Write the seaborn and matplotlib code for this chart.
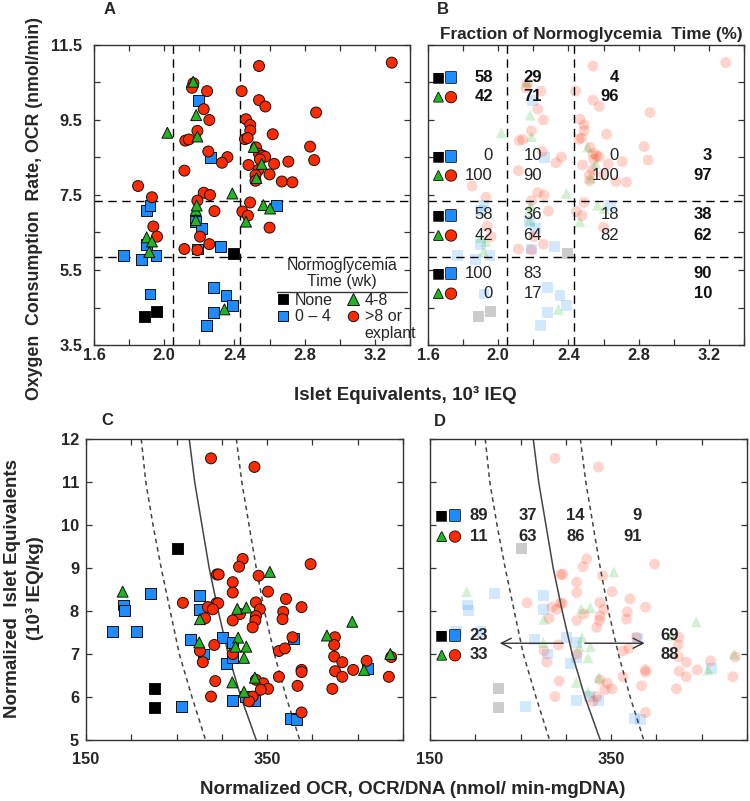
import numpy as np
import pandas as pd
import matplotlib
matplotlib.use("Agg")
import matplotlib.pyplot as plt
import seaborn as sns
from matplotlib.lines import Line2D
from matplotlib.ticker import FixedLocator, FormatStrFormatter
from matplotlib import patheffects as pe

# ---------------- data: panel A/B (islet equivalents vs OCR) ----------------
a_none_x = [1.890, 1.957, 2.394]
a_none_y = [4.26, 4.39, 5.94]
a_b04_x = [2.196, 2.261, 1.900, 1.919, 2.180, 2.214, 1.900, 1.767, 1.872, 1.953,
           2.189, 2.318, 2.280, 2.352, 2.390, 2.280, 2.242, 1.919, 2.640]
a_b04_y = [10.03, 8.51, 7.08, 7.23, 6.79, 6.61, 6.19, 5.88, 5.79, 5.88,
           6.06, 6.12, 5.03, 4.81, 4.55, 4.36, 4.01, 4.86, 7.23]
a_g48_x = [2.018, 2.182, 2.189, 2.165, 2.388, 2.180, 2.180, 2.466, 1.900, 1.930,
           1.915, 2.343, 2.565, 2.603, 2.510, 2.555, 2.525, 2.185]
a_g48_y = [9.16, 9.63, 9.06, 10.52, 7.54, 7.10, 6.83, 6.79, 6.37, 6.26,
           5.98, 4.45, 7.23, 7.14, 8.78, 8.33, 7.95, 7.22]
a_r8_x = [2.166, 2.158, 2.244, 2.441, 2.225, 2.257, 2.189, 2.120, 2.140, 2.251,
          2.360, 2.329, 2.115, 1.851, 1.930, 2.225, 2.261, 2.189, 2.286, 1.938,
          1.959, 2.204, 2.115, 2.189, 2.257, 2.445, 2.489, 2.477, 2.600,
          2.466, 2.490, 2.490, 2.460, 2.475, 2.480, 2.540, 3.296, 2.540, 2.576,
          2.865, 2.618, 2.831, 2.523, 2.540, 2.560, 2.575, 2.545, 2.854, 2.707,
          2.626, 2.537, 2.520, 2.600, 2.520, 2.670, 2.730]
a_r8_y = [10.48, 10.36, 10.27, 10.27, 9.79, 9.50, 9.21, 8.95, 8.98, 8.66,
          8.51, 8.36, 8.15, 7.74, 7.44, 7.56, 7.50, 7.35, 7.07, 6.66,
          6.39, 6.39, 6.06, 6.03, 6.19, 7.06, 7.30, 6.95, 6.63,
          9.52, 9.37, 9.22, 8.99, 9.02, 8.30, 10.94, 11.03, 10.03, 9.86,
          9.70, 9.12, 8.79, 8.77, 8.60, 8.55, 8.52, 8.45, 8.43, 8.39,
          8.33, 8.17, 8.03, 8.05, 7.88, 7.86, 7.84]

# ---------------- data: panel C/D (normalized OCR vs normalized IEQ) ----------------
c_none_x = [250.8, 225.4, 225.4]
c_none_y = [9.45, 6.20, 5.75]
c_b04_x = [179.4, 191.0, 192.0, 206.0, 221.4, 255.6, 265.0, 275.8, 275.8, 280.0,
           300.9, 305.0, 312.0, 312.0, 312.0, 326.0, 336.5, 379.0, 376.0, 382.0, 461.0]
c_b04_y = [7.52, 8.14, 8.01, 7.52, 8.41, 5.77, 7.34, 8.35, 8.04, 7.00,
           7.39, 6.78, 7.26, 6.91, 5.92, 6.02, 5.91, 7.37, 5.50, 5.48, 6.67]
c_g48_x = [190.5, 275.8, 275.0, 311.5, 317.0, 327.0, 318.0, 315.0, 327.0, 324.5,
           324.5, 336.5, 353.0, 416.0, 444.0, 457.0, 486.0]
c_g48_y = [8.45, 7.81, 7.27, 6.34, 8.05, 8.08, 7.38, 7.17, 7.17, 6.91,
           6.12, 6.45, 8.91, 7.43, 7.75, 6.63, 7.00]
c_r8_x = [288.0, 336.0, 323.0, 319.0, 294.6, 296.5, 312.0, 312.0, 257.0, 294.0,
          296.0, 284.7, 290.0, 281.5, 320.0, 312.0, 275.8, 279.0, 291.6, 312.0,
          292.7, 288.0, 398.0, 340.6, 351.0, 370.8, 337.6, 342.0, 388.0, 367.8,
          337.6, 337.0, 367.0, 334.0, 378.0, 424.8, 424.0, 363.0, 369.6, 424.0,
          433.0, 459.8, 445.0, 425.0, 433.0, 388.0, 388.0, 487.0, 484.4, 363.0,
          383.6, 422.0, 388.0, 337.6, 345.7, 351.0, 343.0, 334.0, 330.0]
c_r8_y = [11.55, 11.35, 9.21, 9.03, 8.85, 8.85, 8.67, 8.43, 8.19, 8.18,
          8.18, 8.09, 8.04, 7.83, 7.93, 7.78, 7.07, 6.81, 7.21, 7.00,
          6.37, 6.01, 9.09, 8.82, 8.45, 8.28, 8.20, 8.04, 8.09, 7.98,
          7.88, 7.78, 7.81, 7.62, 7.39, 7.39, 7.21, 7.07, 7.13, 6.94,
          6.81, 6.84, 6.63, 6.60, 6.47, 6.63, 6.58, 6.93, 6.47, 6.47,
          6.26, 6.19, 5.64, 6.40, 6.32, 6.19, 6.17, 6.01, 5.90]

# threshold / reference lines
iex_cuts = [2.05, 2.43]
ocr_cuts = [5.85, 7.34]
curve_y = [12, 11, 10, 9, 8, 7, 6, 5]
curve_mid_x = [264, 270, 278, 286, 296, 307, 321, 338]
curve_lo_x = [211, 216, 224, 233, 243, 253, 267, 282]
curve_hi_x = [316, 322, 330, 338, 347, 358, 371, 386]

# panel B percentages: (None + 0-4) and (4-8 + >8) per OCR band, by IEQ band, last = total
b_pct_low = [[58, 29, 4, None], [0, 10, 0, 3], [58, 36, 18, 38], [100, 83, None, 90]]
b_pct_high = [[42, 71, 96, None], [100, 90, 100, 97], [42, 64, 82, 62], [0, 17, None, 10]]
# panel D percentages
d_pct_low = [89, 37, 14, 9]
d_pct_high = [11, 63, 86, 91]
d_side_low = [23, 69]
d_side_high = [33, 88]
d_arrow_left = [297, 227]
d_arrow_right = [321, 387]
d_arrow_y = 7.25

# tick values
a_xticks = [1.6, 2.0, 2.4, 2.8, 3.2]
a_yticks = [3.5, 5.5, 7.5, 9.5, 11.5]
c_xticks = [150, 350, 550]
c_yticks = [5, 6, 7, 8, 9, 10, 11, 12]

groups = ["None", "0 – 4", "4-8", ">8 or explant"]
palette = {"None": "#000000", "0 – 4": "#1E8CFF", "4-8": "#22B422", ">8 or explant": "#FF2A00"}
markers = {"None": "s", "0 – 4": "s", "4-8": "^", ">8 or explant": "o"}


def build(nx, ny, bx, by, gx, gy, rx, ry):
    parts = [
        pd.DataFrame({"x": bx, "y": by, "g": "0 – 4"}),
        pd.DataFrame({"x": rx, "y": ry, "g": ">8 or explant"}),
        pd.DataFrame({"x": gx, "y": gy, "g": "4-8"}),
        pd.DataFrame({"x": nx, "y": ny, "g": "None"}),
    ]
    return pd.concat(parts, ignore_index=True)


df_a = build(a_none_x, a_none_y, a_b04_x, a_b04_y, a_g48_x, a_g48_y, a_r8_x, a_r8_y)
df_c = build(c_none_x, c_none_y, c_b04_x, c_b04_y, c_g48_x, c_g48_y, c_r8_x, c_r8_y)

sns.set_theme(style="ticks")
plt.rcParams["font.family"] = ["Liberation Sans", "DejaVu Sans"]
plt.rcParams["font.weight"] = "bold"
plt.rcParams["axes.labelweight"] = "bold"

fig = plt.figure(figsize=(7.5, 8.01), dpi=100)
W, H = 750.0, 801.0


def add_ax(l, t, r, b):
    return fig.add_axes([l / W, 1 - b / H, (r - l) / W, (b - t) / H])


axA = add_ax(94, 45, 410, 345)
axB = add_ax(428, 45, 744, 345)
axC = add_ax(86, 439, 403, 740)
axD = add_ax(430, 439, 747, 740)

TICK_FS = 11.8


def style(ax, xlim, ylim, xmaj, xmin, ymaj, ymin, xfmt, yfmt, ylab, ypad, xpad):
    ax.set_xlim(*xlim)
    ax.set_ylim(*ylim)
    ax.xaxis.set_major_locator(FixedLocator(xmaj))
    ax.xaxis.set_minor_locator(FixedLocator(xmin))
    ax.yaxis.set_major_locator(FixedLocator(ymaj))
    ax.yaxis.set_minor_locator(FixedLocator(ymin))
    ax.xaxis.set_major_formatter(FormatStrFormatter(xfmt))
    ax.yaxis.set_major_formatter(FormatStrFormatter(yfmt))
    ax.tick_params(which="both", direction="in", top=True, right=True,
                   length=4, width=0.9, color="#333333", labelsize=TICK_FS)
    ax.tick_params(axis="y", which="both", labelleft=ylab, pad=ypad)
    ax.tick_params(axis="x", which="both", pad=xpad)
    for s in ax.spines.values():
        s.set_linewidth(1.0)
        s.set_color("#333333")
    for lbl in ax.get_xticklabels() + ax.get_yticklabels():
        lbl.set_fontweight("bold")
    ax.set_xlabel("")
    ax.set_ylabel("")


def scatter(ax, df, faded):
    if faded:
        sns.scatterplot(data=df, x="x", y="y", hue="g", style="g", palette=palette,
                        markers=markers, hue_order=groups, style_order=groups,
                        s=62, alpha=0.2, linewidth=0, legend=False, ax=ax, zorder=1)
    else:
        sns.scatterplot(data=df, x="x", y="y", hue="g", style="g", palette=palette,
                        markers=markers, hue_order=groups, style_order=groups,
                        s=62, edgecolor="#111111", linewidth=0.7, legend=False,
                        ax=ax, zorder=3)


# ---- panels A & B ----
for ax, faded in ((axA, False), (axB, True)):
    scatter(ax, df_a, faded)
    for xv in iex_cuts:
        ax.axvline(xv, color="black", lw=1.0, ls=(0, (6, 4)), zorder=2)
    for yv in ocr_cuts:
        ax.axhline(yv, color="black", lw=1.0, ls=(0, (6, 4)), zorder=2)

a_xminor = list(np.round(np.arange(1.6, 3.41, 0.2), 2))
a_yminor = list(np.arange(3.5, 11.6, 1.0))
style(axA, (1.6, 3.4), (3.5, 11.5), a_xticks, a_xminor, a_yticks, a_yminor,
      "%.1f", "%.1f", True, 8.5, 2.5)
style(axB, (1.6, 3.4), (3.5, 11.5), a_xticks, a_xminor, a_yticks, a_yminor,
      "%.1f", "%.1f", False, 8.5, 2.5)

# legend in A
LEG_FS = 11.5
handles = [
    Line2D([], [], ls="", marker="s", mfc=palette["None"], mec="#111111", ms=7.5, mew=0.7),
    Line2D([], [], ls="", marker="s", mfc=palette["0 – 4"], mec="#111111", ms=7.5, mew=0.7),
    Line2D([], [], ls="", marker=None),
    Line2D([], [], ls="", marker="^", mfc=palette["4-8"], mec="#111111", ms=8, mew=0.7),
    Line2D([], [], ls="", marker="o", mfc=palette[">8 or explant"], mec="#111111", ms=7.5, mew=0.7),
    Line2D([], [], ls="", marker=None),
]
labels = ["None", "0 – 4", "", "4-8", ">8 or", "explant"]
leg = axA.legend(handles, labels, ncol=2, loc="upper left",
                 bbox_to_anchor=((277 - 94) / 316, (345 - 293) / 300),
                 frameon=False, prop={"size": LEG_FS, "weight": "normal"},
                 handlelength=0.7, handletextpad=0.4, columnspacing=0.9,
                 labelspacing=0.08, borderpad=0.0, borderaxespad=0.0)
axA.text((342 - 94) / 316, (345 - 273.5) / 300, "Normoglycemia\nTime (wk)",
         transform=axA.transAxes, ha="center", va="center", multialignment="center",
         linespacing=1.05, fontsize=LEG_FS, fontweight="normal")
axA.plot([(277 - 94) / 316, (407 - 94) / 316], [(345 - 292) / 300] * 2,
         transform=axA.transAxes, color="#333333", lw=1.0, clip_on=False)

# texts in B
ICON_FONT = ["DejaVu Sans"]
b_rows = [(10.64, 10.12), (8.54, 8.03), (6.97, 6.43), (5.41, 4.88)]
b_cols = [1.97, 2.25, 2.688, 3.218]
stroke = [pe.withStroke(linewidth=1.2, foreground="#111111")]


def icons(ax, x1, x2, y_top, y_bot, fs):
    ax.text(x1, y_top, "■", color="black", fontsize=fs, family=ICON_FONT,
            ha="center", va="center", fontweight="normal")
    ax.text(x2, y_top, "■", color=palette["0 – 4"], fontsize=fs, family=ICON_FONT,
            ha="center", va="center", fontweight="normal", path_effects=stroke)
    ax.text(x1, y_bot, "▲", color=palette["4-8"], fontsize=fs * 0.85, family=ICON_FONT,
            ha="center", va="center", fontweight="normal", path_effects=stroke)
    ax.text(x2, y_bot, "●", color=palette[">8 or explant"], fontsize=fs, family=ICON_FONT,
            ha="center", va="center", fontweight="normal", path_effects=stroke)


for gi, (yt, yb) in enumerate(b_rows):
    icons(axB, 1.659, 1.731, yt, yb, 10)
    for ci, xc in enumerate(b_cols):
        bold = (gi == 0) or (ci == 3)
        w = "bold" if bold else "normal"
        for val, yy in ((b_pct_low[gi][ci], yt), (b_pct_high[gi][ci], yb)):
            if val is None:
                continue
            axB.text(xc, yy, str(val), ha="right", va="center", fontsize=12,
                     fontweight=w, color="#111111" if bold else "#222222")

# ---- panels C & D ----
for ax, faded in ((axC, False), (axD, True)):
    scatter(ax, df_c, faded)
    ax.plot(curve_mid_x, curve_y, color="#444444", lw=1.1, zorder=2)
    ax.plot(curve_lo_x, curve_y, color="#444444", lw=1.1, ls=(0, (3, 2.5)), zorder=2)
    ax.plot(curve_hi_x, curve_y, color="#444444", lw=1.1, ls=(0, (3, 2.5)), zorder=2)

c_xminor = list(np.arange(150, 501, 50))
c_yminor = c_yticks
style(axC, (150, 500), (5, 12), c_xticks, c_xminor, c_yticks, c_yminor,
      "%d", "%d", True, 5, 9)
style(axD, (150, 500), (5, 12), c_xticks, c_xminor, c_yticks, c_yminor,
      "%d", "%d", False, 5, 9)

# texts in D
d_cols = [214, 268, 321, 384]
icons(axD, 162.9, 177.6, 10.23, 9.74, 10)
for ci, xc in enumerate(d_cols):
    axD.text(xc, 10.23, str(d_pct_low[ci]), ha="right", va="center", fontsize=12)
    axD.text(xc, 9.74, str(d_pct_high[ci]), ha="right", va="center", fontsize=12)
icons(axD, 162.9, 177.6, 7.44, 6.98, 10)
axD.text(214, 7.44, str(d_side_low[0]), ha="right", va="center", fontsize=12)
axD.text(214, 6.98, str(d_side_high[0]), ha="right", va="center", fontsize=12)
axD.text(404, 7.44, str(d_side_low[1]), ha="left", va="center", fontsize=12)
axD.text(404, 6.98, str(d_side_high[1]), ha="left", va="center", fontsize=12)
axD.annotate("", xy=(d_arrow_left[1], d_arrow_y), xytext=(d_arrow_left[0], d_arrow_y),
             arrowprops=dict(arrowstyle="->", lw=1.0, color="#333333",
                             mutation_scale=18, shrinkA=0, shrinkB=0))
axD.annotate("", xy=(d_arrow_right[1], d_arrow_y), xytext=(d_arrow_right[0], d_arrow_y),
             arrowprops=dict(arrowstyle="->", lw=1.0, color="#333333",
                             mutation_scale=18, shrinkA=0, shrinkB=0))

# ---- figure-level labels ----
LAB_FS = 13.5
fig.text(35 / W, 1 - 209 / H, "Oxygen  Consumption  Rate, OCR (nmol/min)", rotation=90,
         ha="center", va="center", fontsize=12.8, fontweight="bold")
fig.text(405 / W, 1 - 395 / H, "Islet Equivalents, 10³ IEQ", ha="center", va="center",
         fontsize=LAB_FS, fontweight="bold")
fig.text(24 / W, 1 - 588 / H, "Normalized  Islet Equivalents\n(10³ IEQ/kg)", rotation=90,
         ha="center", va="center", multialignment="center", linespacing=1.35,
         fontsize=LAB_FS, fontweight="bold")
fig.text(413 / W, 1 - 790 / H, "Normalized OCR, OCR/DNA (nmol/ min-mgDNA)", ha="center",
         va="center", fontsize=LAB_FS, fontweight="bold")
fig.text(591 / W, 1 - 35 / H, "Fraction of Normoglycemia  Time (%)", ha="center",
         va="center", fontsize=12.3, fontweight="bold")
for lbl, (px, py) in {"A": (110, 9), "B": (443, 9), "C": (107, 421), "D": (440, 422)}.items():
    fig.text(px / W, 1 - py / H, lbl, ha="center", va="center", fontsize=12, fontweight="bold")

fig.savefig("out.png", dpi=100)
